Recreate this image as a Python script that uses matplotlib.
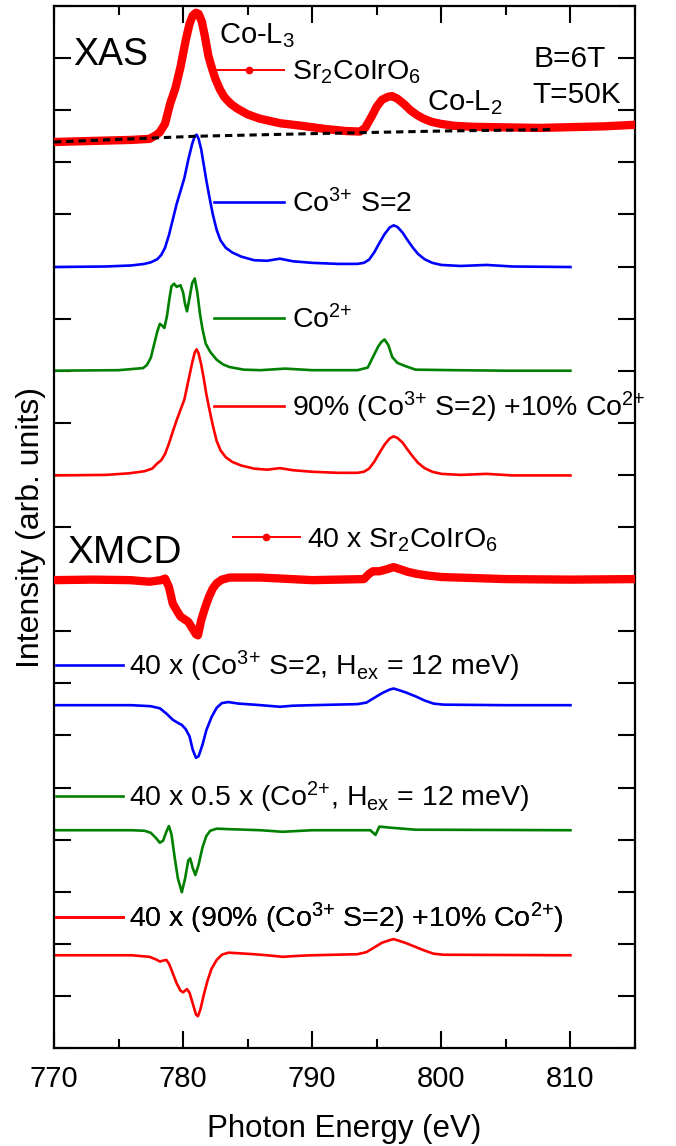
import matplotlib

matplotlib.use("Agg")
import matplotlib.pyplot as plt
from matplotlib.lines import Line2D
from matplotlib.ticker import MultipleLocator, NullFormatter

# ---- data (y already includes the vertical stacking) ----
xas_exp_e = [770, 773, 776, 777.4, 777.9, 778.2, 778.6, 779.0, 779.4, 779.8, 780.2, 780.5,
             780.75, 781.0, 781.2, 781.45, 781.7, 781.95, 782.2, 782.5, 782.85, 783.2, 783.7,
             784.2, 785.0, 785.9, 787.5, 789.2, 791.0, 792.6, 793.7, 794.1, 794.6, 795.0,
             795.4, 795.9, 796.2, 796.6, 797.1, 797.6, 798.1, 798.6, 799.2, 799.9, 801.0,
             802.6, 807.6, 812.6, 815.0]
xas_exp_y = [17.39, 17.41, 17.43, 17.45, 17.52, 17.58, 17.74, 18.13, 18.42, 18.83, 19.34, 19.66,
             19.82, 19.87, 19.85, 19.70, 19.40, 19.05, 18.83, 18.60, 18.40, 18.25, 18.12,
             18.03, 17.92, 17.84, 17.75, 17.70, 17.64, 17.60, 17.59, 17.66, 17.88, 18.07,
             18.20, 18.26, 18.27, 18.22, 18.12, 18.00, 17.91, 17.84, 17.78, 17.74, 17.70,
             17.68, 17.66, 17.69, 17.72]

bg_e = [770, 775, 781, 790, 800, 808.8]
bg_y = [17.39, 17.44, 17.50, 17.55, 17.60, 17.63]

co3_e = [770, 774, 776, 777, 777.5, 778, 778.3, 778.6, 778.9, 779.2, 779.5, 779.8, 780.1,
         780.4, 780.7, 780.9, 781.05, 781.2, 781.4, 781.6, 781.8, 782.0, 782.3, 782.6, 782.9,
         783.3, 783.8, 784.5, 785.5, 786.5, 787.5, 788.5, 790, 792, 793.5, 794.0, 794.4,
         794.8, 795.2, 795.6, 796.0, 796.3, 796.6, 797.0, 797.4, 797.8, 798.2, 798.7, 799.3,
         800, 801.5, 803.5, 805.5, 810]
co3_y = [14.99, 15.00, 15.02, 15.05, 15.08, 15.14, 15.22, 15.36, 15.60, 15.90, 16.20, 16.45,
         16.70, 17.05, 17.35, 17.50, 17.53, 17.45, 17.25, 16.95, 16.65, 16.38, 16.00, 15.70,
         15.50, 15.36, 15.27, 15.19, 15.12, 15.11, 15.15, 15.10, 15.07, 15.05, 15.05, 15.07,
         15.13, 15.27, 15.45, 15.62, 15.75, 15.79, 15.76, 15.65, 15.50, 15.36, 15.24, 15.14,
         15.07, 15.03, 15.01, 15.03, 15.00, 14.99]

co2_e = [770, 775, 776.9, 777.2, 777.5, 777.8, 778.0, 778.2, 778.4, 778.55, 778.75, 778.95,
         779.1, 779.3, 779.5, 779.8, 780.0, 780.15, 780.3, 780.5, 780.7, 780.9, 781.1, 781.3,
         781.5, 781.75, 782.1, 782.6, 783.1, 783.6, 784.7, 786.0, 787.9, 790.0, 793.5, 794.3,
         794.7, 795.1, 795.35, 795.6, 795.9, 796.2, 796.6, 797.2, 798.0, 801.0, 805.0, 810.0]
co2_y = [13.00, 13.01, 13.05, 13.11, 13.25, 13.55, 13.75, 13.90, 13.86, 13.82, 14.05, 14.40,
         14.62, 14.67, 14.61, 14.64, 14.50, 14.28, 14.14, 14.40, 14.68, 14.77, 14.50, 14.10,
         13.80, 13.52, 13.36, 13.21, 13.12, 13.07, 13.02, 13.01, 13.04, 13.01, 13.01, 13.06,
         13.26, 13.46, 13.55, 13.60, 13.49, 13.26, 13.15, 13.09, 13.02, 13.01, 13.00, 13.00]

mix_e = [770, 774, 775.8, 777, 777.6, 778.0, 778.3, 778.6, 778.9, 779.2, 779.5, 779.8, 780.1,
         780.4, 780.7, 780.9, 781.05, 781.2, 781.4, 781.6, 781.8, 782.0, 782.3, 782.6, 782.9,
         783.3, 783.8, 784.5, 785.5, 786.5, 787.5, 788.5, 790, 792, 793.5, 794.0, 794.4,
         794.8, 795.2, 795.6, 796.0, 796.3, 796.6, 797.0, 797.4, 797.8, 798.2, 798.7, 799.3,
         800, 801.5, 803.5, 805.5, 810]
mix_y = [10.99, 11.00, 11.03, 11.07, 11.12, 11.22, 11.28, 11.40, 11.60, 11.83, 12.05, 12.25,
         12.45, 12.80, 13.15, 13.35, 13.41, 13.33, 13.12, 12.85, 12.55, 12.30, 11.95, 11.65,
         11.47, 11.34, 11.25, 11.18, 11.12, 11.10, 11.13, 11.09, 11.06, 11.04, 11.04, 11.06,
         11.12, 11.25, 11.42, 11.58, 11.70, 11.74, 11.71, 11.62, 11.48, 11.35, 11.23, 11.13,
         11.06, 11.02, 11.00, 11.02, 10.99, 10.99]

xmcd_exp_e = [770, 773, 775.9, 777.4, 778.3, 778.6, 778.9, 779.2, 779.5, 779.8, 780.1, 780.4,
              780.6, 780.8, 781.0, 781.15, 781.4, 781.7, 782.0, 782.3, 782.6, 783.0, 783.6,
              786.0, 790.0, 794.0, 794.4, 794.7, 795.2, 795.8, 796.3, 796.8, 797.4, 798.1,
              798.9, 800.0, 805.0, 810.0, 815.0]
xmcd_exp_y = [8.98, 8.99, 8.98, 8.95, 8.98, 9.01, 8.85, 8.53, 8.40, 8.28, 8.23, 8.18,
              8.10, 8.02, 7.94, 7.92, 8.21, 8.45, 8.66, 8.82, 8.92, 8.99, 9.03,
              9.03, 8.98, 9.00, 9.10, 9.15, 9.15, 9.19, 9.23, 9.19, 9.14, 9.10,
              9.07, 9.04, 9.00, 8.99, 9.00]

xmcd_co3_e = [770, 776, 777.5, 778.2, 778.7, 779.2, 779.6, 779.9, 780.2, 780.5, 780.75, 781.0,
              781.2, 781.5, 781.8, 782.2, 782.6, 783.0, 783.5, 784.3, 785.5, 786.5, 787.5,
              788.5, 790, 793.5, 794.2, 794.8, 795.4, 796.0, 796.3, 796.7, 797.3, 798.0,
              798.7, 799.4, 800.2, 805, 810]
xmcd_co3_y = [6.58, 6.58, 6.56, 6.52, 6.42, 6.30, 6.24, 6.20, 6.12, 5.98, 5.72, 5.57,
              5.60, 5.82, 6.10, 6.35, 6.53, 6.62, 6.64, 6.61, 6.59, 6.57, 6.55,
              6.57, 6.58, 6.60, 6.63, 6.72, 6.81, 6.88, 6.90, 6.87, 6.82, 6.75,
              6.67, 6.61, 6.59, 6.58, 6.58]

xmcd_co2_e = [770, 776, 777.0, 777.5, 777.9, 778.2, 778.45, 778.7, 778.9, 779.1, 779.35, 779.6,
              779.9, 780.15, 780.4, 780.55, 780.75, 780.95, 781.2, 781.5, 781.8, 782.1, 782.6,
              783.6, 786, 787.7, 790, 794.5, 794.9, 795.2, 796, 797, 798, 810]
xmcd_co2_y = [4.18, 4.18, 4.17, 4.13, 4.03, 3.94, 3.98, 4.15, 4.26, 4.10, 3.65, 3.25,
              2.99, 3.25, 3.60, 3.64, 3.45, 3.32, 3.52, 3.85, 4.07, 4.17, 4.21,
              4.20, 4.18, 4.15, 4.18, 4.18, 4.09, 4.25, 4.23, 4.21, 4.19, 4.18]

xmcd_mix_e = [770, 776, 777.4, 777.9, 778.2, 778.5, 778.7, 778.9, 779.1, 779.5, 779.8, 780.0,
              780.3, 780.5, 780.75, 781.0, 781.15, 781.35, 781.6, 781.9, 782.2, 782.6, 783.0,
              783.5, 784.2, 785.5, 786.5, 787.7, 789, 790, 793.5, 794.2, 794.8, 795.4, 796.0,
              796.3, 796.7, 797.3, 798.0, 798.7, 799.4, 800.2, 810]
xmcd_mix_y = [1.78, 1.78, 1.75, 1.70, 1.66, 1.68, 1.69, 1.62, 1.50, 1.24, 1.10, 1.07,
              1.13, 1.06, 0.85, 0.64, 0.61, 0.75, 1.02, 1.30, 1.52, 1.69, 1.79,
              1.83, 1.82, 1.80, 1.78, 1.75, 1.77, 1.78, 1.80, 1.84, 1.93, 2.02, 2.07,
              2.09, 2.06, 2.01, 1.94, 1.87, 1.81, 1.79, 1.78]

labels = [
    "Sr$_2$CoIrO$_6$",
    "Co$^{3{+}}$ S=2",
    "Co$^{2{+}}$",
    "90% (Co$^{3{+}}$ S=2) +10% Co$^{2{+}}$",
    "40 x Sr$_2$CoIrO$_6$",
    "40 x (Co$^{3{+}}$ S=2, H$_{ex}$ = 12 meV)",
    "40 x 0.5 x (Co$^{2{+}}$, H$_{ex}$ = 12 meV)",
    "40 x (90% (Co$^{3{+}}$ S=2) +10% Co$^{2{+}}$)",
]

RED = "#ff0000"
BLUE = "#0000ff"
GREEN = "#008000"


def add_single_legend(ax, handle, label, anchor, handlelength, textpad):
    leg = ax.legend([handle], [label], loc="center left", bbox_to_anchor=anchor,
                    frameon=False, fontsize=20.5, handlelength=handlelength,
                    handletextpad=textpad, borderpad=0, borderaxespad=0, numpoints=1)
    ax.add_artist(leg)


def main() -> None:
    plt.rcParams["font.family"] = ["Liberation Sans", "DejaVu Sans"]
    plt.rcParams["mathtext.default"] = "regular"

    fig = plt.figure(figsize=(6.76, 11.46), dpi=100)
    ax = fig.add_axes([54 / 676, 98 / 1146, 581 / 676, 1042 / 1146])

    thick = dict(color=RED, lw=6.0, solid_capstyle="round", solid_joinstyle="round")
    calc = dict(lw=1.9, solid_joinstyle="round")

    ax.plot(xas_exp_e, xas_exp_y, **thick, zorder=3)
    ax.plot(bg_e, bg_y, color="black", lw=2.2, ls=(0, (2.4, 1.6)), zorder=4)
    l_co3, = ax.plot(co3_e, co3_y, color=BLUE, **calc)
    l_co2, = ax.plot(co2_e, co2_y, color=GREEN, **calc)
    l_mix, = ax.plot(mix_e, mix_y, color=RED, **calc)
    ax.plot(xmcd_exp_e, xmcd_exp_y, **thick, zorder=3)
    l_xco3, = ax.plot(xmcd_co3_e, xmcd_co3_y, color=BLUE, **calc)
    l_xco2, = ax.plot(xmcd_co2_e, xmcd_co2_y, color=GREEN, **calc)
    l_xmix, = ax.plot(xmcd_mix_e, xmcd_mix_y, color=RED, **calc)

    exp_handle = Line2D([], [], color=RED, lw=1.4, marker="o", ms=4.5)

    add_single_legend(ax, exp_handle, labels[0], (0.2754, 0.9364), 2.45, 0.28)
    add_single_legend(ax, l_co3, labels[1], (0.2754, 0.8107), 2.45, 0.28)
    add_single_legend(ax, l_co2, labels[2], (0.2754, 0.6994), 2.45, 0.28)
    add_single_legend(ax, l_mix, labels[3], (0.2754, 0.6150), 2.45, 0.28)
    add_single_legend(ax, exp_handle, labels[4], (0.3081, 0.4874), 2.35, 0.25)
    add_single_legend(ax, l_xco3, labels[5], (0.0034, 0.3665), 2.35, 0.22)
    add_single_legend(ax, l_xco2, labels[6], (0.0034, 0.2408), 2.35, 0.22)
    add_single_legend(ax, l_xmix, labels[7], (0.0034, 0.1247), 2.35, 0.22)

    ax.text(771.5, 18.86, "XAS", fontsize=27)
    ax.text(771.0, 9.31, "XMCD", fontsize=28)
    ax.text(782.8, 19.28, "Co-L$_3$", fontsize=21)
    ax.text(798.9, 18.00, "Co-L$_2$", fontsize=21)
    ax.text(807.1, 18.82, "B=6T", fontsize=21.5)
    ax.text(807.05, 18.13, "T=50K", fontsize=21.5)

    ax.set_xlim(770, 815)
    ax.set_ylim(0, 20)
    ax.xaxis.set_major_locator(MultipleLocator(10))
    ax.xaxis.set_minor_locator(MultipleLocator(5))
    ax.yaxis.set_major_locator(MultipleLocator(1))
    ax.yaxis.set_major_formatter(NullFormatter())
    ax.tick_params(which="both", direction="in", top=True, right=True, width=1.5)
    ax.tick_params(which="major", length=12, labelsize=21, pad=12)
    ax.tick_params(which="minor", length=6.5)
    for spine in ax.spines.values():
        spine.set_linewidth(1.6)

    ax.set_xlabel("Photon Energy (eV)", fontsize=22.5, labelpad=15)
    ax.set_ylabel("Intensity (arb. units)", fontsize=23, labelpad=-6)

    fig.savefig("out.png", dpi=100)


if __name__ == "__main__":
    main()
